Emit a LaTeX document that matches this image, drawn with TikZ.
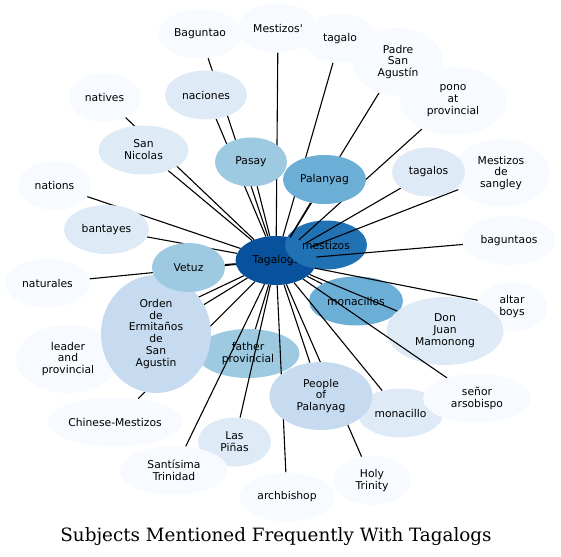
\documentclass[tikz,border=0pt]{standalone}
\usepackage{fontspec}
\setmainfont{DejaVu Sans}[Ligatures=TeXOff]
\newfontfamily\titlefont{DejaVu Serif}
\usetikzlibrary{shapes.geometric}

\definecolor{blueA}{HTML}{F7FBFF}
\definecolor{blueB}{HTML}{DEEBF7}
\definecolor{blueC}{HTML}{C6DBEF}
\definecolor{blueD}{HTML}{9ECAE1}
\definecolor{blueE}{HTML}{6BAED6}
\definecolor{blueF}{HTML}{2171B5}
\definecolor{blueG}{HTML}{08519C}

\pgfdeclarelayer{background}
\pgfdeclarelayer{foreground}
\pgfsetlayers{background,main,foreground}

\begin{document}
\begin{tikzpicture}
[
	x=1bp, y=-1bp,
	term/.style={ellipse,inner sep=0pt,align=center,minimum width=#1,
		minimum height=49bp,font=\fontsize{10.8}{12}\selectfont},
	term/.default=80bp,
	tall/.style={minimum height=68bp},
	link/.style={line width=1.1bp,black}
]
	\useasboundingbox (0,0) rectangle (561,557);

	% nodes that the links run over
	\begin{pgfonlayer}{background}
	\node[term=81bp,fill=blueG] at (276,260.5) (tagalogs) {Tagalogs};
	\node[term=82bp,fill=blueF] at (326,245) (mestizos) {mestizos};
	\node[term=94bp,fill=blueE] at (356,301) (monacillos) {monacillos};
	\node[term=71bp,fill=blueA] at (512,307) (altar) {altar\\boys};
	\node[term=117bp,tall,fill=blueB] at (445,331) (donjuan) {Don\\Juan\\Mamonong};
	\node[term=103bp,fill=blueD] at (248,353.5) (father) {father\\provincial};
	\end{pgfonlayer}

	% nodes above the links
	\begin{pgfonlayer}{foreground}
	\node[term=83bp,fill=blueE] at (324.5,179.5) (palanyag) {Palanyag};
	\node[term=72bp,fill=blueD] at (251,162) (pasay) {Pasay};
	\node[term=104bp,tall,fill=blueA] at (68,359) (leader) {leader\\and\\provincial};
	\node[term=110bp,minimum height=118bp,fill=blueC] at (156,334) (orden)
		{Orden\\de\\Ermitaños\\de\\San\\Agustin};
	\node[term=73bp,fill=blueD] at (188.5,267.5) (vetuz) {Vetuz};
	\node[term=86bp,fill=blueB] at (400.5,413) (monacillo) {monacillo};
	\node[term=103bp,tall,fill=blueC] at (321,396) (people) {People\\of\\Palanyag};
	\node[term=108bp,fill=blueA] at (477,398.5) (senor) {señor\\arsobispo};
	\node[term=97bp,tall,fill=blueA] at (501,173) (sangley) {Mestizos\\de\\sangley};
	\node[term=73bp,fill=blueB] at (428.5,172) (tagalos) {tagalos};
	\node[term=82bp,fill=blueB] at (206,95) (naciones) {naciones};
	\node[term=90bp,fill=blueB] at (143.5,150) (sannicolas) {San\\Nicolas};
	\node[term=85bp,fill=blueB] at (106.5,229.5) (bantayes) {bantayes};
	\node[term=73bp,fill=blueB] at (234.5,442) (laspinas) {Las\\Piñas};
	\node[term=84bp,fill=blueA] at (200,34) (baguntao) {Baguntao};
	\node[term=80bp,fill=blueA] at (278,28) (mestizosq) {Mestizos'};
	\node[term=74bp,fill=blueA] at (340,38.5) (tagalo) {tagalo};
	\node[term=90bp,tall,fill=blueA] at (398,62) (padre) {Padre\\San\\Agustín};
	\node[term=107bp,tall,fill=blueA] at (453,101) (pono) {pono\\at\\provincial};
	\node[term=93bp,fill=blueA] at (509,240.5) (baguntaos) {baguntaos};
	\node[term=78bp,fill=blueA] at (372,480.5) (holy) {Holy\\Trinity};
	\node[term=95bp,fill=blueA] at (287,497) (archbishop) {archbishop};
	\node[term=108bp,fill=blueA] at (174,470.5) (santisima) {Santísima\\Trinidad};
	\node[term=135bp,fill=blueA] at (115,422) (chinese) {Chinese-Mestizos};
	\node[term=85bp,fill=blueA] at (47.5,283) (naturales) {naturales};
	\node[term=73bp,fill=blueA] at (54.5,185.5) (nations) {nations};
	\node[term=72bp,fill=blueA] at (104.5,97.5) (natives) {natives};
	\end{pgfonlayer}

	% links, upper half
	\draw[link] (tagalogs) -- (baguntao) (tagalogs) -- (naciones) (tagalogs) -- (mestizosq);
	\draw[link] (tagalogs) -- (tagalo) (tagalogs) -- (padre) (tagalogs) -- (pono);
	\draw[link] (tagalogs) -- (pasay) (tagalogs) -- (palanyag) (tagalogs) -- (tagalos);
	\draw[link] (tagalogs) -- (sangley) (tagalogs) -- (baguntaos);
	\draw[link] (tagalogs) -- (natives) (tagalogs) -- (sannicolas) (tagalogs) -- (nations);
	\draw[link] (tagalogs) -- (bantayes) (tagalogs) -- (vetuz) (tagalogs) -- (naturales);

	% links, lower half
	\draw[link] (tagalogs) -- (altar) (tagalogs) -- (monacillos) (tagalogs) -- (donjuan);
	\draw[link] (tagalogs) -- (senor) (tagalogs) -- (monacillo) (tagalogs) -- (holy);
	\draw[link] (tagalogs) -- (people) (tagalogs) -- (archbishop) (tagalogs) -- (laspinas);
	\draw[link] (tagalogs) -- (santisima) (tagalogs) -- (father) (tagalogs) -- (orden);
	\draw[link] (tagalogs) -- (chinese) (tagalogs) -- (leader);

	% title
	\node[anchor=base,font=\titlefont\fontsize{18.4}{22}\selectfont] at (276,541) (title)
		{Subjects Mentioned Frequently With Tagalogs};
\end{tikzpicture}
\end{document}
